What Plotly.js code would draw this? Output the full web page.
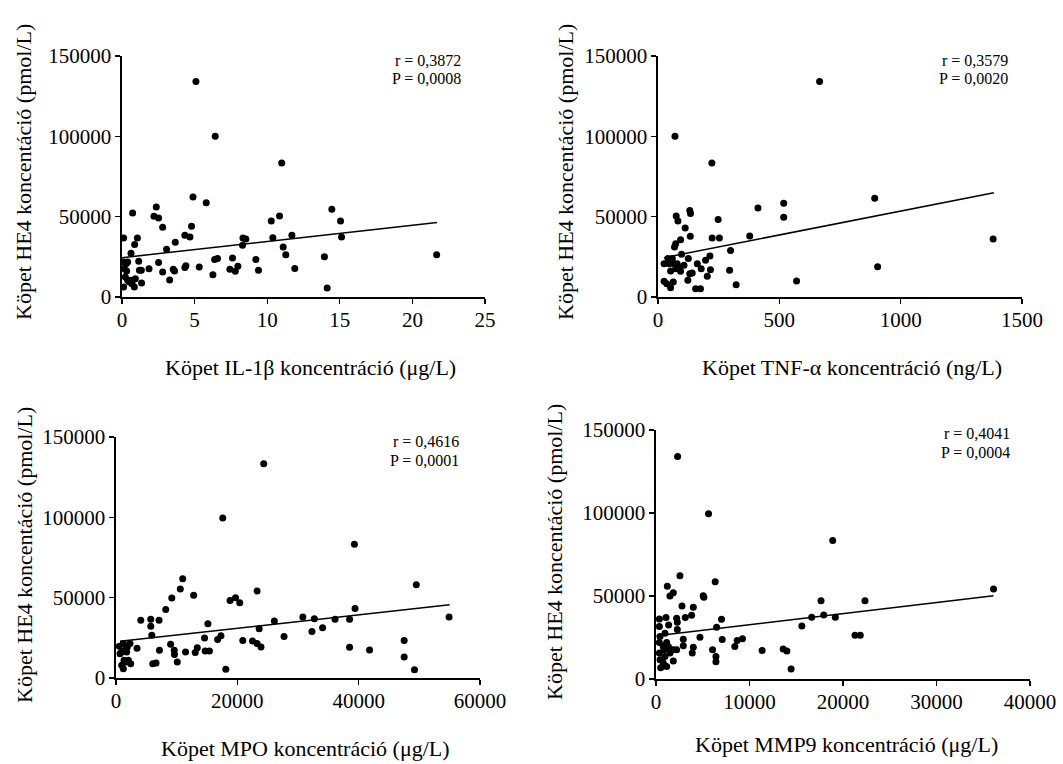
<!DOCTYPE html>
<html>
<head>
<meta charset="utf-8">
<script src="https://cdn.plot.ly/plotly-3.0.1.min.js"></script>
<style>html,body{margin:0;padding:0;background:#fff;}#chart{width:1063px;height:764px;}</style>
</head>
<body>
<div id="chart"></div>
<script>
// ---------- Data ----------
const yTitle = "Köpet HE4 koncentáció (pmol/L)";
const xTitles = ["Köpet IL-1β koncentráció (μg/L)", "Köpet TNF-α koncentráció (ng/L)", "Köpet MPO koncentráció (μg/L)", "Köpet MMP9 koncentráció (μg/L)"];
const rLabels = ["r = 0,3872", "r = 0,3579", "r = 0,4616", "r = 0,4041"];
const pLabels = ["P = 0,0008", "P = 0,0020", "P = 0,0001", "P = 0,0004"];

const il1b_x = [5.09,6.42,11.0,4.89,5.8,0.73,2.36,2.2,2.52,2.8,4.79,4.33,4.68,3.67,3.07,0.11,1.06,0.87,0.62,1.15,2.52,1.86,1.33,1.2,2.8,3.53,3.62,3.28,4.33,4.4,5.32,6.26,6.38,6.58,7.61,7.43,7.8,7.98,8.3,8.33,8.53,9.22,9.4,10.28,10.85,10.39,11.1,11.28,11.7,11.9,13.94,14.13,14.45,15.05,15.12,21.67,0.11,0.28,0.39,0.16,0.32,0.23,0.39,0.11,0.5,0.69,0.85,0.92,1.35,0.62];
const il1b_he4 = [134200,100000,83400,62200,58700,52300,56000,50200,49200,43400,44000,38400,37300,34000,29700,36700,36700,32600,27200,22200,21400,17600,16600,16600,15600,17200,16200,10600,18300,19500,18700,13900,23400,23900,24300,17200,16000,19100,32200,36700,36100,23400,16600,47300,50400,36900,31100,26300,38400,17800,25100,5600,54600,47300,37300,26300,21800,20700,21800,17600,16200,12400,10400,6200,9300,8300,6200,11400,8700,10400];
const il1b_fitX = [0, 21.7];
const il1b_fitY = [24500, 46300];

const tnf_x = [666,70,222,893,1381,905,571,412,518,518,378,248,223,253,299,295,322,131,134,75,82,112,133,93,73,68,97,125,162,178,196,214,216,203,155,175,123,131,141,107,93,73,52,45,25,41,59,66,25,36,52,63,79,86];
const tnf_he4 = [134200,100000,83400,61400,36100,18900,10000,55400,58300,49600,38000,48300,36700,36700,29000,16600,7700,53900,51900,50400,47300,42900,37800,35700,33200,31100,26600,23900,20700,17600,22800,25500,17000,12900,5200,5200,10400,14500,14900,19700,16000,17600,16200,20700,20700,23900,23900,20700,9800,8300,5800,9300,20700,18300];
const tnf_fitX = [25, 1384];
const tnf_fitY = [24500, 64900];

const mpo_x = [24350,17600,39300,49500,54900,39400,11000,10600,9200,12800,8200,4080,5730,5730,7100,5900,7160,9000,9600,9640,10100,11460,13060,13400,14600,15150,14700,15400,16750,17300,18100,18800,19700,20400,20900,22500,23250,23600,23250,23900,26100,27700,30800,32300,32700,34050,36100,38500,38500,41800,47500,47500,49200,3470,6600,6060,1210,2310,1870,1490,1760,940,1320,2040,2420,940,1210,1650,660,550];
const mpo_he4 = [133400,99600,83200,58100,38000,43200,61800,55400,49800,51500,42700,35900,36500,32200,35900,26600,17200,21000,17200,14700,10000,16200,15800,18900,24900,33800,16800,16800,23900,26300,5400,48300,50000,46900,23400,23000,54100,30700,21400,19300,35500,25900,38000,29000,36900,31300,36500,36500,19100,17400,23400,13100,5200,18500,9300,8900,21400,21400,19300,17200,16200,16200,11000,11000,8900,7900,5800,10000,15100,19700];
const mpo_fitX = [660, 55000];
const mpo_fitY = [22800, 45600];

const mmp9_x = [2310,5620,18900,36100,2560,1210,1850,1490,6330,5050,5120,2780,3990,3810,3130,2210,2280,1070,360,1350,2280,4700,7010,6480,7080,8680,9250,8430,6050,6410,6410,2920,2920,3990,3880,11350,13600,14000,14450,15600,16650,17650,17940,19180,21280,21850,22350,360,430,960,360,780,1140,1320,1850,1490,2210,360,960,430,780,1140,1850,500,1570,850];
const mmp9_he4 = [134000,99600,83400,54200,62200,55800,52000,50000,58600,50200,49200,44000,43200,38400,37000,36600,34200,37000,36200,32600,29800,25200,36000,31200,23800,23200,24200,19600,17600,13600,10400,24000,20000,19200,15600,17200,18000,16800,6000,32000,37200,47200,38600,37200,26400,26400,47200,31600,25600,27600,22000,19600,22000,19600,17600,15600,17600,15600,13600,11600,9600,7600,10800,6800,17600,17600];
const mmp9_fitX = [70, 36100];
const mmp9_fitY = [26000, 50200];

const xRanges = [[0,25],[0,1500],[0,60000],[0,40000]];
const xDticks = [5, 500, 20000, 10000];
const yRange = [0,150000];
const yDtick = 50000;

// ---------- Layout helpers (pixel positions) ----------
const W = 1063, H = 764;
const fx = x => x / W;
const fy = y => 1 - y / H;
const FONT = '"Liberation Serif", "Times New Roman", serif';

// panel boxes: [left, right, top, bottom] in px
const boxes = [
  [122, 485, 56, 297],
  [658, 1022, 56, 297],
  [116, 480, 437, 678],
  [656, 1030, 430, 679]
];

const series = [
  [il1b_x, il1b_he4, il1b_fitX, il1b_fitY],
  [tnf_x, tnf_he4, tnf_fitX, tnf_fitY],
  [mpo_x, mpo_he4, mpo_fitX, mpo_fitY],
  [mmp9_x, mmp9_he4, mmp9_fitX, mmp9_fitY]
];

const traces = [];
const layout = {
  width: W, height: H,
  margin: {l:0, r:0, t:0, b:0},
  paper_bgcolor: '#ffffff', plot_bgcolor: '#ffffff',
  showlegend: false,
  font: {family: FONT, color: '#000', size: 21},
  annotations: []
};

const axisCommon = {
  showline: true, linecolor: '#000', linewidth: 1.6,
  ticks: 'outside', ticklen: 5, tickwidth: 1.4, tickcolor: '#000',
  showgrid: false, zeroline: false, tickformat: 'd',
  tickfont: {family: FONT, size: 21, color: '#000'},
  fixedrange: true
};

series.forEach((s, i) => {
  const n = i === 0 ? '' : String(i + 1);
  const xa = 'x' + n, ya = 'y' + n;
  traces.push({
    type: 'scatter', mode: 'markers', x: s[0], y: s[1], xaxis: xa, yaxis: ya,
    marker: {color: '#000', size: 7}, cliponaxis: false, hoverinfo: 'skip'
  });
  traces.push({
    type: 'scatter', mode: 'lines', x: s[2], y: s[3], xaxis: xa, yaxis: ya,
    line: {color: '#000', width: 1.5}, cliponaxis: false, hoverinfo: 'skip'
  });
  const b = boxes[i];
  layout['xaxis' + n] = Object.assign({}, axisCommon, {
    domain: [fx(b[0]), fx(b[1])], anchor: ya, range: xRanges[i], dtick: xDticks[i], tick0: 0,
    ticklabelstandoff: -2
  });
  layout['yaxis' + n] = Object.assign({}, axisCommon, {
    domain: [fy(b[3]), fy(b[2])], anchor: xa, range: yRange, dtick: yDtick, tick0: 0
  });
});

// r / P labels
const statPos = [
  [463, 60, 78], [1010, 60, 78], [461, 441, 460], [1012, 433, 453]
];
statPos.forEach((p, i) => {
  layout.annotations.push({xref:'paper', yref:'paper', x: fx(p[0]), y: fy(p[1]), xanchor:'right', yanchor:'middle',
    text: rLabels[i], showarrow:false, align:'right', font:{family:FONT, size:16, color:'#000'}});
  layout.annotations.push({xref:'paper', yref:'paper', x: fx(p[0]), y: fy(p[2]), xanchor:'right', yanchor:'middle',
    text: pLabels[i], showarrow:false, align:'right', font:{family:FONT, size:16, color:'#000'}});
});

// axis titles
const xTitlePos = [[310, 367], [852, 367], [305, 748], [846, 744]];
xTitlePos.forEach((p, i) => {
  layout.annotations.push({xref:'paper', yref:'paper', x: fx(p[0]), y: fy(p[1]), xanchor:'center', yanchor:'middle',
    text: xTitles[i], showarrow:false, font:{family:FONT, size:22, color:'#000'}});
});
const yTitlePos = [[24, 172], [566, 172], [24, 555], [554, 552]];
yTitlePos.forEach((p, i) => {
  layout.annotations.push({xref:'paper', yref:'paper', x: fx(p[0]), y: fy(p[1]), xanchor:'center', yanchor:'middle',
    text: yTitle, textangle: -90, showarrow:false, font:{family:FONT, size:22, color:'#000'}});
});

Plotly.newPlot('chart', traces, layout, {displayModeBar: false, staticPlot: true});
</script>
</body>
</html>
